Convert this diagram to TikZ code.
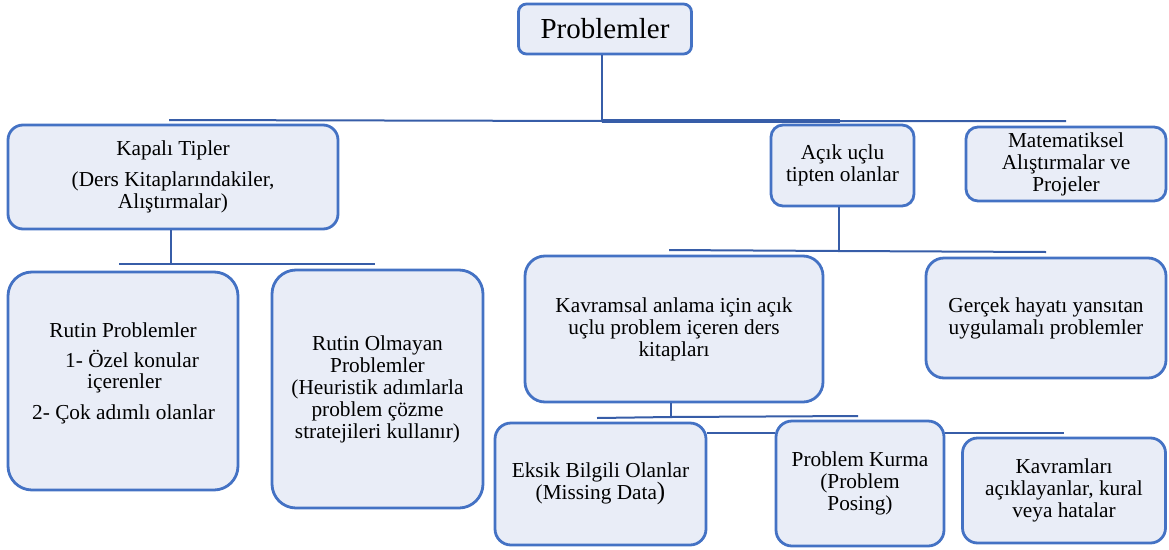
\documentclass[tikz,border=0pt]{standalone}
\usepackage{fontspec}
\setmainfont{Liberation Serif}
\definecolor{boxblue}{RGB}{68,114,196}
\definecolor{boxfill}{RGB}{233,237,247}
\definecolor{linkblue}{RGB}{55,93,168}
\tikzset{
  box/.style={draw=boxblue, line width=2.8pt, fill=boxfill, rounded corners=12pt,
    align=center, inner sep=2pt, text=black,
    font=\fontsize{21.3}{22}\selectfont},
  link/.style={draw=linkblue, line width=2pt},
  thicklink/.style={draw=linkblue, line width=3.6pt},
  txt/.style={inner sep=0pt, font=\fontsize{21.3}{22}\selectfont}
}
\begin{document}
\begin{tikzpicture}[x=1pt, y=-1pt]
\useasboundingbox (0,0) rectangle (1169,549);

% bus end points
\coordinate (busL) at (169,120);
\coordinate (busM) at (602,121);
\coordinate (busT) at (840,121);
\coordinate (busR) at (1066,121);
\coordinate (kapL) at (119,264);
\coordinate (kapM) at (171,264);
\coordinate (kapR) at (375,264);
\coordinate (acL) at (669,250);
\coordinate (acM) at (839,251);
\coordinate (acR) at (1046,252);
\coordinate (kvL) at (597,418);
\coordinate (kvM) at (671,417);
\coordinate (kvR) at (858,416);
\coordinate (side) at (0,433);
\coordinate (sideR) at (1064,433);

% connectors (drawn first, boxes cover their ends)
\draw[link] (busL) -- (busM) -- (busR);
\draw[thicklink] (busM) -- (busT);
\draw[link] (kapL) -- (kapR);
\draw[link] (acL) -- (acM) -- (acR);
\draw[link] (kvL) -- (kvM) -- (kvR);

% boxes
\node[box, minimum width=173pt, minimum height=50pt, rounded corners=8pt,
      font=\fontsize{29}{30}\selectfont] (top) at (605,29) {Problemler};
\node[box, minimum width=330pt, minimum height=104pt, rounded corners=15pt] (kapali) at (173,177)
  {Kapalı Tipler\\[9pt](Ders Kitaplarındakiler,\\Alıştırmalar)};
\node[box, minimum width=230pt, minimum height=218pt, rounded corners=24pt] (rutin) at (123,381) {};
\node[box, minimum width=211pt, minimum height=238pt, rounded corners=24pt] (olmayan) at (377.5,389)
  {Rutin Olmayan\\Problemler\\(Heuristik adımlarla\\problem çözme\\stratejileri kullanır)};
\node[box, minimum width=143pt, minimum height=81pt] (acik) at (842.5,165.5)
  {Açık uçlu\\tipten olanlar};
\node[box, minimum width=200pt, minimum height=74pt] (mat) at (1066,164)
  {Matematiksel\\Alıştırmalar ve\\Projeler};
\node[box, minimum width=240pt, minimum height=120pt, rounded corners=18pt] (gercek) at (1046,318)
  {Gerçek hayatı yansıtan\\uygulamalı problemler};
\node[box, minimum width=298pt, minimum height=146pt, rounded corners=20pt] (kavramsal) at (674,329)
  {Kavramsal anlama için açık\\uçlu problem içeren ders\\kitapları};
\node[box, minimum width=211pt, minimum height=122pt, rounded corners=16pt] (eksik) at (600.5,484)
  {Eksik Bilgili Olanlar\\(Missing Data{\fontsize{25}{22}\selectfont)}};
\node[box, minimum width=168pt, minimum height=125pt, rounded corners=16pt] (kurma) at (860,483.5)
  {Problem Kurma\\(Problem\\Posing)};
\node[box, minimum width=203pt, minimum height=105pt, rounded corners=15pt] (hatalar) at (1064,490.5)
  {Kavramları\\açıklayanlar, kural\\veya hatalar};

% text lines of the routine-problems box
\node[txt, anchor=base] (r1) at (123,337) {Rutin Problemler};
\node[txt, anchor=base west] (r2) at (65,367) {1- Özel konular};
\node[txt, anchor=base west] (r3) at (87,388) {içerenler};
\node[txt, anchor=base west] (r4) at (32,419) {2- Çok adımlı olanlar};

% stems from parent boxes down to their buses
\draw[link] (top.south -| busM) -- (busM);
\draw[link] (kapali.south -| kapM) -- (kapM);
\draw[link] (acik.south -| acM) -- (acM);
\draw[link] (kavramsal.south -| kvM) -- (kvM);

% short side links between the bottom boxes
\draw[link] (eksik.east |- side) -- (kurma.west |- side);
\draw[link] (kurma.east |- side) -- (sideR);
\end{tikzpicture}
\end{document}
